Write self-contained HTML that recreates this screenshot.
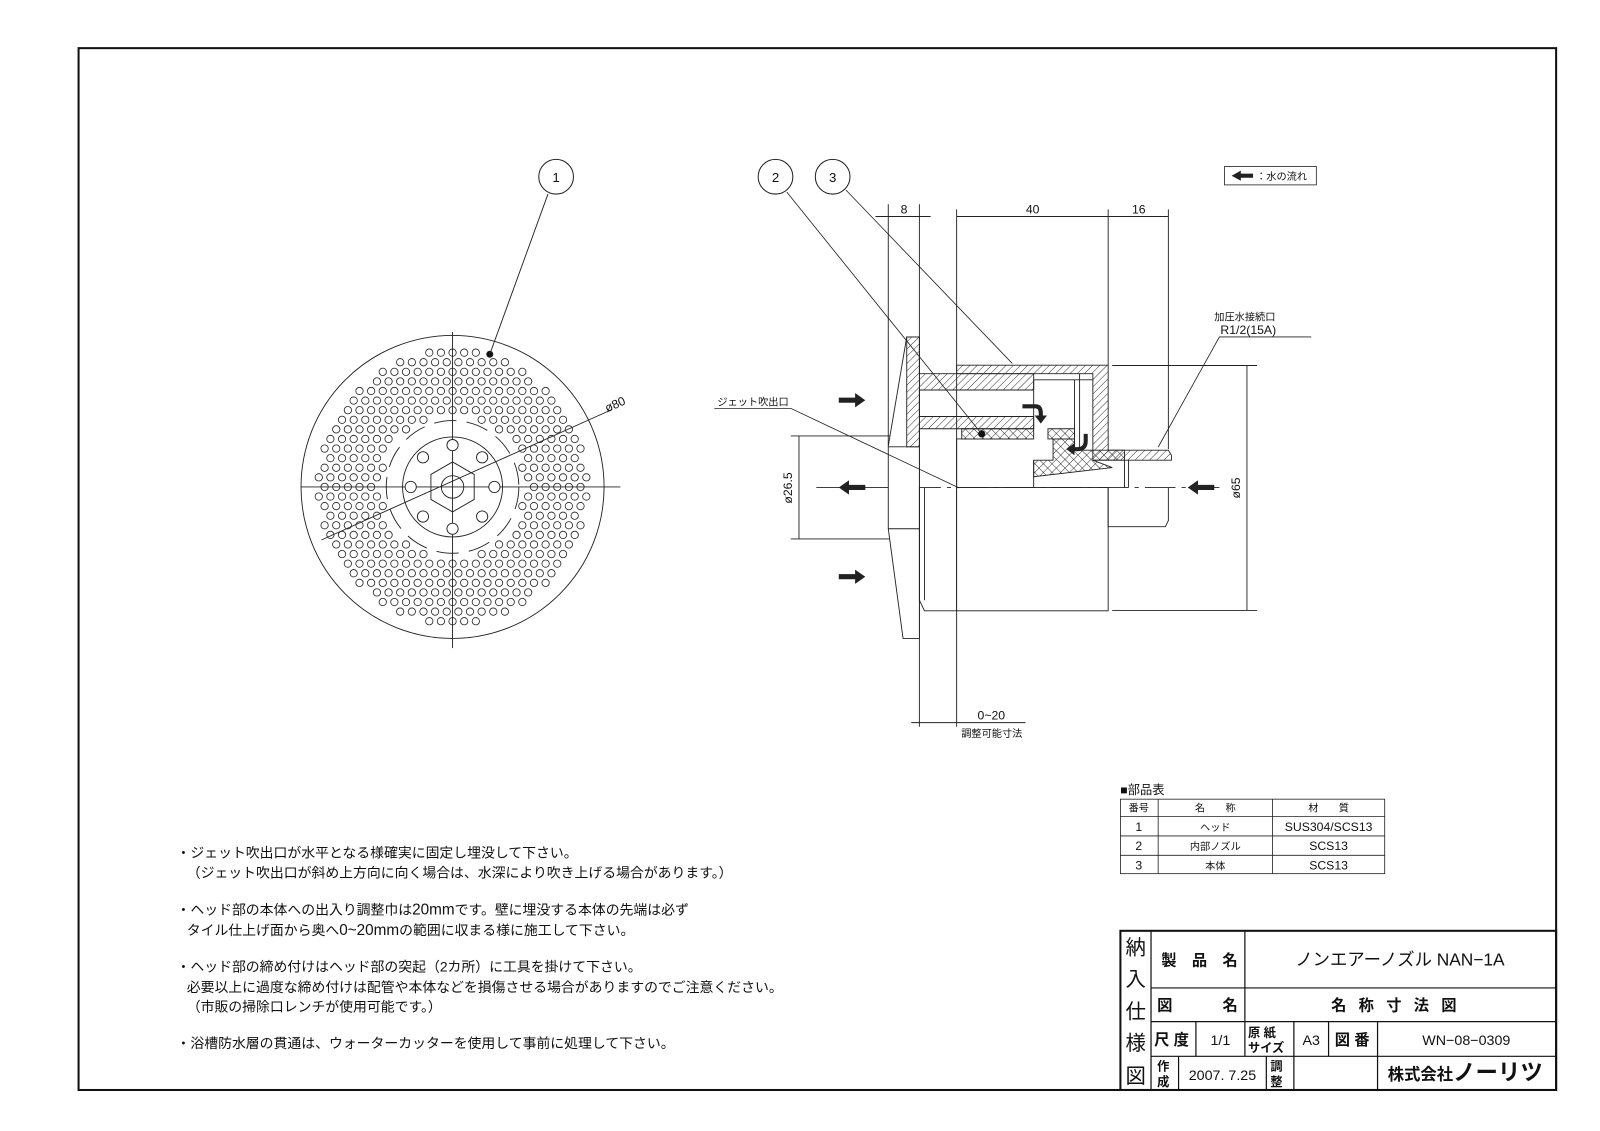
<!DOCTYPE html>
<html><head><meta charset="utf-8"><style>
html,body{margin:0;padding:0;background:#fff}
svg{display:block}
text{font-family:"Liberation Sans","Noto Sans CJK JP",sans-serif;fill:#111}
</style></head><body>
<svg id="s" width="1600" height="1131" viewBox="0 0 1568 1108" xmlns="http://www.w3.org/2000/svg">
<defs>
<pattern id="h1" width="5" height="5" patternUnits="userSpaceOnUse" patternTransform="rotate(45)"><line x1="0" y1="0" x2="0" y2="5" stroke="#222" stroke-width="0.9"/></pattern>
<pattern id="hx" width="6" height="6" patternUnits="userSpaceOnUse" patternTransform="rotate(45)"><path d="M0 0V6M0 0H6" stroke="#222" stroke-width="0.9" fill="none"/></pattern>
</defs>
<rect x="0" y="0" width="1568" height="1108" fill="#fff"/>
<rect x="77" y="47" width="1448" height="1021" fill="none" stroke="#111" stroke-width="2"/>

<!-- FRONT VIEW -->
<g id="front" stroke="#222" fill="none" stroke-width="0.9">
<circle cx="443.5" cy="477" r="148.5"/>
<line x1="443.5" y1="325" x2="443.5" y2="635"/>
<line x1="295" y1="477" x2="608" y2="477"/>
<circle cx="443.5" cy="477" r="49"/>
<polygon points="443.5,452.5 464.7,464.75 464.7,489.25 443.5,501.5 422.3,489.25 422.3,464.75"/>
<circle cx="443.5" cy="477" r="11"/>
<circle cx="443.5" cy="477" r="65" stroke-dasharray="22 10"/>
<line x1="315" y1="529" x2="600" y2="401"/>
<text x="595" y="404" transform="rotate(-24 595 404)" stroke="none" font-size="12">ø80</text>
<circle cx="480" cy="347" r="3" fill="#111"/>
<line x1="480" y1="347" x2="537" y2="190"/>
</g>
<circle cx="545" cy="173" r="17" fill="#fff" stroke="#222"/>
<text x="545" y="178" font-size="13" text-anchor="middle">1</text>

<!-- SIDE VIEW -->
<g stroke="#222" stroke-width="0.9" fill="none">
<line x1="870.5" y1="200" x2="870.5" y2="437"/>
<line x1="901" y1="200" x2="901" y2="712"/>
<line x1="937.5" y1="205" x2="937.5" y2="712"/>
<line x1="1086" y1="205" x2="1086" y2="358"/>
<line x1="1145" y1="205" x2="1145" y2="440"/>
<line x1="858" y1="212" x2="912" y2="212"/>
<line x1="937.5" y1="212" x2="1145" y2="212"/>
<line x1="1090" y1="358" x2="1232" y2="358"/>
<line x1="1090" y1="598" x2="1232" y2="598"/>
<line x1="1222" y1="358" x2="1222" y2="598"/>
<line x1="775" y1="427" x2="888" y2="427"/>
<line x1="775" y1="528" x2="888" y2="528"/>
<line x1="783" y1="427" x2="783" y2="528"/>
<line x1="893" y1="708" x2="1005" y2="708"/>
<line x1="800" y1="477.6" x2="1195" y2="477.6" stroke-dasharray="30 6 4 6"/>
<path d="M888.6 330 L870.5 437 L870.5 518 L885 625.5 L901 625.5 L901 330 Z" fill="#fff"/>
<line x1="870.5" y1="437.7" x2="901" y2="437.7"/>
<line x1="870.5" y1="518" x2="901" y2="518"/>
<rect x="937.5" y="477.6" width="148.5" height="120.8" fill="#fff"/>
<path d="M901 477.6 V588 L906 598.4 H937.5"/>
<line x1="906" y1="477.6" x2="906" y2="588"/>
<path d="M1086 477.6 V516 H1142 L1145 510 V477.6"/>
<path d="M937.5 477.6 V430 H1013 M1013 450.8 V477.6"/>
<path d="M1013 372 H1071 M1013 372 V420 M1053 372 V441 M1058 366 V441"/>
<path d="M1102 450.8 V477.6 M1106 450.8 V477.6"/>
</g>
<g stroke="#222" stroke-width="0.9">
<path d="M888.6 330 H901 V366 H1013 V382 H901 V408 H1013 V420 H901 V437.7 H888.6 Z" fill="url(#h1)"/>
<path d="M937.5 357.7 H1086 V441 H1145 L1148 446 V450.8 H1071 V366 H937.5 Z" fill="url(#h1)"/>
<path d="M942.5 420 H1013 V430 H942.5 Z" fill="url(#hx)"/>
<path d="M1027 420 H1053 V430 H1027 Z" fill="url(#hx)"/>
<path d="M1032 430 H1053 V441 H1102 V450.8 H1071 L1090 458 L1013 467 V450.8 H1032 Z" fill="url(#hx)"/>
</g>
<circle cx="962" cy="425" r="3.5" fill="#111"/>
<g fill="#222">
<polygon points="822,389.5 838,389.5 838,385 848,392 838,399 838,394.5 822,394.5"/>
<polygon points="822,562.5 838,562.5 838,558 848,565 838,572 838,567.5 822,567.5"/>
<polygon points="848,475 832,475 832,470.5 822,477.6 832,484.5 832,480 848,480"/>
<polygon points="1190,475 1174,475 1174,470.5 1164,477.6 1174,484.5 1174,480 1190,480"/>
</g>
<path d="M1002 398 H1015 Q1020 398 1020 405 V408" stroke="#222" stroke-width="4" fill="none"/>
<polygon points="1014,407 1026,407 1020,415" fill="#222"/>
<path d="M1064 425 V432 Q1064 440 1056 440 H1052" stroke="#222" stroke-width="4" fill="none"/>
<polygon points="1053,434 1053,446 1045,440" fill="#222"/>

<g stroke="#222" stroke-width="0.8" fill="none">
<line x1="771" y1="188" x2="962" y2="425"/>
<line x1="829" y1="186" x2="992" y2="356"/>
<path d="M700 400 H775 L940 478"/>
<path d="M1285 330 H1195 L1135 438"/>
<rect x="1200" y="163" width="90" height="18"/>
</g>
<circle cx="760" cy="173" r="17" fill="#fff" stroke="#222"/>
<text x="760" y="178" font-size="13" text-anchor="middle">2</text>
<circle cx="816" cy="173" r="17" fill="#fff" stroke="#222"/>
<text x="816" y="178" font-size="13" text-anchor="middle">3</text>
<polygon points="1228,170 1216,170 1216,167 1207,172 1216,177 1216,174 1228,174" fill="#222"/>
<text x="1231" y="176" font-size="10">：水の流れ</text>
<text x="703" y="397" font-size="10">ジェット吹出口</text>
<text x="1190" y="314" font-size="10">加圧水接続口</text>
<text x="1196" y="327" font-size="12">R1/2(15A)</text>
<text x="886" y="209" font-size="12" text-anchor="middle">8</text>
<text x="1012" y="209" font-size="12" text-anchor="middle">40</text>
<text x="1116" y="209" font-size="12" text-anchor="middle">16</text>
<text x="958" y="705" font-size="12">0~20</text>
<text x="942" y="722" font-size="10">調整可能寸法</text>
<text x="1215" y="478" font-size="12" text-anchor="middle" transform="rotate(-90 1215 478)">ø65</text>
<text x="776" y="478" font-size="12" text-anchor="middle" transform="rotate(-90 776 478)">ø26.5</text>

<g font-size="13.6">
<text x="173" y="840">・ジェット吹出口が水平となる様確実に固定し埋没して下さい。</text>
<text x="183" y="860">（ジェット吹出口が斜め上方向に向く場合は、水深により吹き上げる場合があります。）</text>
<text x="173" y="896">・ヘッド部の本体への出入り調整巾は<tspan font-size="15">20mm</tspan>です。壁に埋没する本体の先端は必ず</text>
<text x="183" y="916">タイル仕上げ面から奥へ<tspan font-size="15">0~20mm</tspan>の範囲に収まる様に施工して下さい。</text>
<text x="173" y="952">・ヘッド部の締め付けはヘッド部の突起（2カ所）に工具を掛けて下さい。</text>
<text x="183" y="972">必要以上に過度な締め付けは配管や本体などを損傷させる場合がありますのでご注意ください。</text>
<text x="183" y="991">（市販の掃除口レンチが使用可能です。）</text>
<text x="173" y="1027">・浴槽防水層の貫通は、ウォーターカッターを使用して事前に処理して下さい。</text>
</g>

<text x="1098" y="778" font-size="12">■部品表</text>
<g stroke="#222" stroke-width="0.8" fill="none">
<rect x="1098" y="783" width="259" height="73"/>
<line x1="1098" y1="800" x2="1357" y2="800"/>
<line x1="1098" y1="819" x2="1357" y2="819"/>
<line x1="1098" y1="838" x2="1357" y2="838"/>
<line x1="1135" y1="783" x2="1135" y2="856"/>
<line x1="1247" y1="783" x2="1247" y2="856"/>
</g>
<g font-size="10" text-anchor="middle">
<text x="1116" y="795">番号</text><text x="1191" y="795">名　　称</text><text x="1302" y="795">材　　質</text>
<text x="1116" y="814" font-size="12">1</text><text x="1191" y="814">ヘッド</text><text x="1302" y="814" font-size="12">SUS304/SCS13</text>
<text x="1116" y="833" font-size="12">2</text><text x="1191" y="833">内部ノズル</text><text x="1302" y="833" font-size="12">SCS13</text>
<text x="1116" y="852" font-size="12">3</text><text x="1191" y="852">本体</text><text x="1302" y="852" font-size="12">SCS13</text>
</g>

<g stroke="#111" fill="none">
<rect x="1098" y="912" width="427" height="156" stroke-width="2"/>
<g stroke-width="1.2">
<line x1="1128" y1="912" x2="1128" y2="1068"/>
<line x1="1128" y1="968" x2="1525" y2="968"/>
<line x1="1128" y1="1001" x2="1525" y2="1001"/>
<line x1="1128" y1="1035" x2="1525" y2="1035"/>
<line x1="1220" y1="912" x2="1220" y2="1035"/>
<line x1="1172" y1="1001" x2="1172" y2="1035"/>
<line x1="1268" y1="1001" x2="1268" y2="1068"/>
<line x1="1302" y1="1001" x2="1302" y2="1035"/>
<line x1="1350" y1="1001" x2="1350" y2="1068"/>
<line x1="1155" y1="1035" x2="1155" y2="1068"/>
<line x1="1241" y1="1035" x2="1241" y2="1068"/>
</g>
</g>
<g font-size="20" text-anchor="middle">
<text x="1113" y="935">納</text><text x="1113" y="966">入</text><text x="1113" y="998">仕</text><text x="1113" y="1029">様</text><text x="1113" y="1061">図</text>
</g>
<g font-size="15" font-weight="bold">
<text x="1138" y="946">製　品　名</text>
<text x="1134" y="990">図</text><text x="1198" y="990">名</text>
<text x="1131" y="1024">尺 度</text>
<text x="1308" y="1024">図 番</text>
<text x="1360" y="1058" font-size="16">株式会社<tspan font-size="22">ノーリツ</tspan></text>
</g>
<text x="1372" y="946" font-size="17" text-anchor="middle">ノンエアーノズル NAN−1A</text>
<text x="1372" y="990" font-size="15" font-weight="bold" text-anchor="middle" letter-spacing="12">名称寸法図</text>
<text x="1196" y="1024" font-size="14" text-anchor="middle">1/1</text>
<g font-size="12" font-weight="bold"><text x="1223" y="1016">原 紙</text><text x="1223" y="1031">サイズ</text>
<text x="1134" y="1049">作</text><text x="1134" y="1064">成</text>
<text x="1245" y="1049">調</text><text x="1245" y="1064">整</text></g>
<text x="1285" y="1024" font-size="14" text-anchor="middle">A3</text>
<text x="1437" y="1024" font-size="14" text-anchor="middle">WN−08−0309</text>
<text x="1198" y="1058" font-size="14" text-anchor="middle">2007. 7.25</text>

<g id="holes" stroke="#222" stroke-width="0.8" fill="none"></g>
<g id="hub" stroke="#222" stroke-width="0.9" fill="#fff"></g>
</svg>
<script>
(function(){
var ns="http://www.w3.org/2000/svg",g=document.getElementById("holes"),cx=443.5,cy=477,dx=11.4,dy=9.4;
for(var j=-14;j<=14;j++){var off=(j%2?dx/2:0);for(var i=-14;i<=14;i++){var x=cx+i*dx+off,y=cy+j*dy;var r=Math.hypot(x-cx,y-cy);if(r<70||r>134)continue;
var c=document.createElementNS(ns,"circle");c.setAttribute("cx",x.toFixed(1));c.setAttribute("cy",y.toFixed(1));c.setAttribute("r","3.6");g.appendChild(c);}}
var h=document.getElementById("hub");
for(var k=0;k<8;k++){var a=k*Math.PI/4;var x=cx+41*Math.cos(a),y=cy+41*Math.sin(a);var c=document.createElementNS(ns,"circle");c.setAttribute("cx",x.toFixed(1));c.setAttribute("cy",y.toFixed(1));c.setAttribute("r","5.5");h.appendChild(c);}
})();
</script>
</body></html>
